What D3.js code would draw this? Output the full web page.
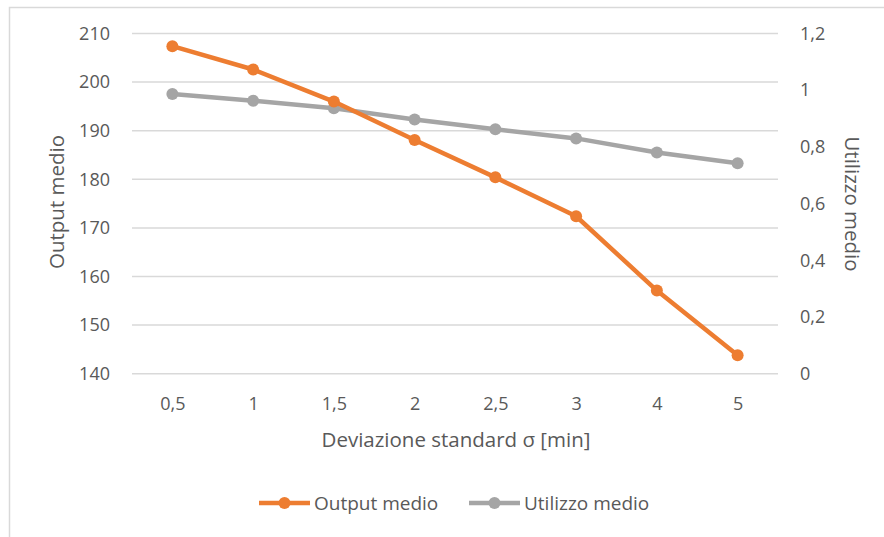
<!DOCTYPE html>
<html>
<head>
<meta charset="utf-8">
<script src="https://cdn.jsdelivr.net/npm/d3@7"></script>
<style>
  html, body { margin: 0; padding: 0; background: #fff; }
  svg { display: block; }
  text { font-family: "Open Sans", "Noto Sans", sans-serif; fill: #595959; }
</style>
</head>
<body>
<svg id="chart" width="884" height="537"></svg>
<script>
// Standard deviation categories (x axis)
const categories = ["0,5", "1", "1,5", "2", "2,5", "3", "4", "5"];
// Mean output (left axis)
const outputMedio = [207.4, 202.6, 196.0, 188.1, 180.4, 172.4, 157.1, 143.8];
// Mean utilisation (right axis)
const utilizzoMedio = [0.987, 0.963, 0.936, 0.897, 0.862, 0.830, 0.780, 0.742];
// Axis ticks
const leftTicks = [140, 150, 160, 170, 180, 190, 200, 210];
const rightTicks = [0, 0.2, 0.4, 0.6, 0.8, 1, 1.2];

const svg = d3.select("#chart");
const plot = { left: 132, right: 778, top: 33.5, bottom: 373.7 };
const tickFont = "18px";

// Outer border of the chart area
svg.append("rect")
  .attr("x", 9.5).attr("y", 7.5).attr("width", 884).attr("height", 540)
  .attr("fill", "none").attr("stroke", "#d9d9d9").attr("stroke-width", 1.5);

const x = d3.scalePoint().domain(categories).range([plot.left, plot.right]).padding(0.5);
const yL = d3.scaleLinear().domain([140, 210]).range([plot.bottom, plot.top]);
const yR = d3.scaleLinear().domain([0, 1.2]).range([plot.bottom, plot.top]);

const fmt = v => String(+v.toFixed(1)).replace(".", ",");

// Gridlines
svg.append("g").selectAll("line").data(leftTicks).join("line")
  .attr("x1", plot.left).attr("x2", plot.right)
  .attr("y1", d => yL(d)).attr("y2", d => yL(d))
  .attr("stroke", "#d9d9d9").attr("stroke-width", 1.5);

// Left axis
const axL = svg.append("g").attr("transform", `translate(${plot.left},0)`)
  .call(d3.axisLeft(yL).tickValues(leftTicks).tickSize(0).tickPadding(22).tickFormat(d => d));
axL.select(".domain").remove();
axL.selectAll("text").style("font-size", tickFont).style("font-family", "'Open Sans', sans-serif").attr("fill", "#595959");

// Right axis
const axR = svg.append("g").attr("transform", `translate(${plot.right},0)`)
  .call(d3.axisRight(yR).tickValues(rightTicks).tickSize(0).tickPadding(22).tickFormat(fmt));
axR.select(".domain").remove();
axR.selectAll("text").style("font-size", tickFont).style("font-family", "'Open Sans', sans-serif").attr("fill", "#595959");

// Bottom axis
const axB = svg.append("g").attr("transform", `translate(0,${plot.bottom})`)
  .call(d3.axisBottom(x).tickSize(0));
axB.select(".domain").remove();
axB.selectAll("text").attr("y", 36.5).attr("dy", 0)
  .style("font-size", tickFont).style("font-family", "'Open Sans', sans-serif").attr("fill", "#595959");

// Axis titles
svg.append("text").attr("x", 456).attr("y", 447).attr("text-anchor", "middle")
  .style("font-size", "20.5px").text("Deviazione standard σ [min]");
svg.append("text").attr("transform", "translate(64,202) rotate(-90)").attr("text-anchor", "middle")
  .style("font-size", "20.5px").text("Output medio");
svg.append("text").attr("transform", "translate(845,204) rotate(90)").attr("text-anchor", "middle")
  .style("font-size", "20.5px").text("Utilizzo medio");

// Series
const series = [
  { name: "Output medio", values: outputMedio, y: yL, color: "#ED7D31" },
  { name: "Utilizzo medio", values: utilizzoMedio, y: yR, color: "#A5A5A5" }
];

// Draw gray first so orange stays on top
[series[1], series[0]].forEach(s => {
  const line = d3.line().x((d, i) => x(categories[i])).y(d => s.y(d));
  svg.append("path").datum(s.values)
    .attr("d", line).attr("fill", "none")
    .attr("stroke", s.color).attr("stroke-width", 4.5)
    .attr("stroke-linejoin", "round").attr("stroke-linecap", "round");
  svg.append("g").selectAll("circle").data(s.values).join("circle")
    .attr("cx", (d, i) => x(categories[i])).attr("cy", d => s.y(d))
    .attr("r", 6).attr("fill", s.color);
});

// Legend
const legend = svg.append("g").attr("transform", "translate(0,503)");
const legendItems = [
  { s: series[0], x0: 259 },
  { s: series[1], x0: 469 }
];
legendItems.forEach(({ s, x0 }) => {
  legend.append("line").attr("x1", x0).attr("x2", x0 + 51).attr("y1", 0).attr("y2", 0)
    .attr("stroke", s.color).attr("stroke-width", 4.5);
  legend.append("circle").attr("cx", x0 + 25.5).attr("cy", 0).attr("r", 6).attr("fill", s.color);
  legend.append("text").attr("x", x0 + 55).attr("y", 0).attr("dy", "0.35em")
    .style("font-size", "19px").text(s.name);
});
</script>
</body>
</html>
